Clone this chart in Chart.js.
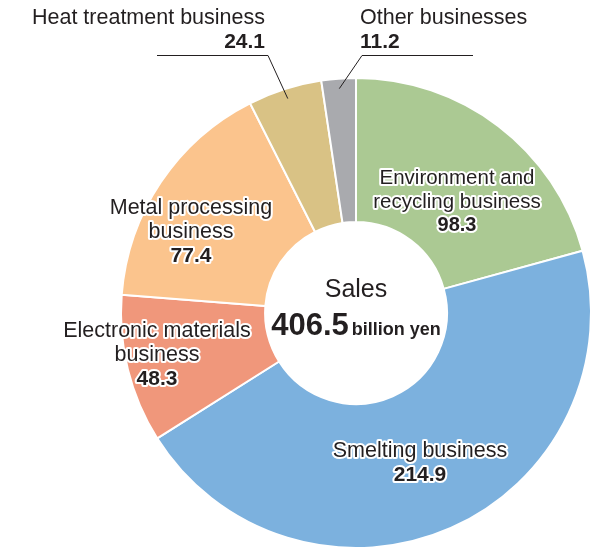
<!DOCTYPE html>
<html>
<head>
<meta charset="utf-8">
<script src="https://cdn.jsdelivr.net/npm/chart.js@4.4.1/dist/chart.umd.min.js"></script>
<style>
  html, body { margin: 0; padding: 0; background: #ffffff; overflow: hidden; }
  #wrap { position: absolute; left: 0; top: 0; width: 602px; height: 560px; }
</style>
</head>
<body>
<div id="wrap"><canvas id="c" width="602" height="560"></canvas></div>
<script>
// ---- data ----
const categories = [
  'Environment and recycling business',
  'Smelting business',
  'Electronic materials business',
  'Metal processing business',
  'Heat treatment business',
  'Other businesses'
];
const salesValues = [98.3, 214.9, 48.3, 77.4, 24.1, 11.2];
const labelLines = [
  ['Environment and', 'recycling business'],
  ['Smelting business'],
  ['Electronic materials', 'business'],
  ['Metal processing', 'business'],
  ['Heat treatment business'],
  ['Other businesses']
];
const totalSales = '406.5';
const totalUnit = 'billion yen';
const centerTitle = 'Sales';
const sliceColors = ['#abc993', '#7cb1de', '#f0977b', '#fbc48d', '#d9c285', '#a9aaae'];

// label layout (text placement only)
const labelLayout = [
  { x: 457, y: 184, align: 'center', size: 20.5, lh: 23.5 },
  { x: 420, y: 457, align: 'center', size: 21.5, lh: 24 },
  { x: 157, y: 337, align: 'center', size: 21.5, lh: 24 },
  { x: 191, y: 214, align: 'center', size: 21.5, lh: 24 },
  { x: 265, y: 24, align: 'right', size: 21.5, lh: 24, leader: { x1: 157, x2: 268, y: 55.5 } },
  { x: 360, y: 24, align: 'left', size: 21.5, lh: 24, leader: { x1: 473, x2: 362, y: 55.5 } }
];

const FONT = '"Liberation Sans", Arial, Helvetica, sans-serif';
const TEXT_COLOR = '#231f20';

function haloText(ctx, text, x, y, font) {
  ctx.font = font;
  ctx.lineJoin = 'round';
  ctx.lineWidth = 4;
  ctx.strokeStyle = '#ffffff';
  ctx.strokeText(text, x, y);
  ctx.fillStyle = TEXT_COLOR;
  ctx.fillText(text, x, y);
}

const labelPlugin = {
  id: 'sliceLabels',
  afterDatasetsDraw(chart) {
    const ctx = chart.ctx;
    const meta = chart.getDatasetMeta(0);
    ctx.save();
    // leader lines
    meta.data.forEach((arc, i) => {
      const lay = labelLayout[i];
      if (!lay.leader) return;
      const p = arc.getProps(['x', 'y', 'startAngle', 'endAngle', 'outerRadius'], true);
      const mid = (p.startAngle + p.endAngle) / 2;
      const r = p.outerRadius - 10;
      const ex = p.x + Math.cos(mid) * r;
      const ey = p.y + Math.sin(mid) * r;
      ctx.beginPath();
      ctx.strokeStyle = '#231f20';
      ctx.lineWidth = 1;
      ctx.moveTo(lay.leader.x1, lay.leader.y);
      ctx.lineTo(lay.leader.x2, lay.leader.y);
      ctx.lineTo(ex, ey);
      ctx.stroke();
    });
    // labels
    meta.data.forEach((arc, i) => {
      const lay = labelLayout[i];
      ctx.textAlign = lay.align;
      ctx.textBaseline = 'alphabetic';
      const lines = labelLines[i];
      lines.forEach((ln, k) => {
        haloText(ctx, ln, lay.x, lay.y + k * lay.lh, lay.size + 'px ' + FONT);
      });
      haloText(ctx, salesValues[i].toFixed(1), lay.x, lay.y + lines.length * lay.lh, 'bold ' + (lay.size - 0.5) + 'px ' + FONT);
    });
    // center text
    const a0 = meta.data[0];
    const cx = a0.x, cy = a0.y;
    ctx.textAlign = 'center';
    ctx.fillStyle = TEXT_COLOR;
    ctx.font = '25px ' + FONT;
    ctx.fillText(centerTitle, cx, cy - 16);
    ctx.font = 'bold 31px ' + FONT;
    const w1 = ctx.measureText(totalSales).width;
    ctx.font = 'bold 18px ' + FONT;
    const gap = 3;
    const w2 = ctx.measureText(totalUnit).width;
    const startX = cx - (w1 + gap + w2) / 2;
    ctx.textAlign = 'left';
    ctx.font = 'bold 31px ' + FONT;
    ctx.fillText(totalSales, startX, cy + 22);
    ctx.font = 'bold 18px ' + FONT;
    ctx.fillText(totalUnit, startX + w1 + gap, cy + 22);
    ctx.restore();
  }
};

new Chart(document.getElementById('c'), {
  type: 'doughnut',
  data: {
    labels: categories,
    datasets: [{
      data: salesValues,
      backgroundColor: sliceColors,
      borderColor: '#ffffff',
      borderWidth: 2,
      hoverOffset: 0
    }]
  },
  options: {
    responsive: false,
    animation: false,
    devicePixelRatio: 1,
    cutout: '38.7%',
    layout: { padding: { left: 120, right: 10, top: 77, bottom: 11 } },
    plugins: {
      legend: { display: false },
      tooltip: { enabled: false }
    }
  },
  plugins: [labelPlugin]
});
</script>
</body>
</html>
